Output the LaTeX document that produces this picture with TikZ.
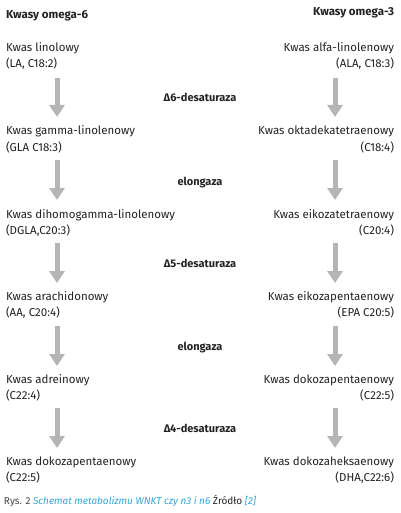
\documentclass[tikz,border=0pt]{standalone}
\usepackage{fontspec}
\setmainfont{Fira Sans}
\usetikzlibrary{arrows.meta}
\definecolor{txt}{HTML}{222222}
\definecolor{arr}{HTML}{B5B5B5}
\definecolor{capblue}{HTML}{35A6D6}
\definecolor{capgrey}{HTML}{444444}
\begin{document}
\begin{tikzpicture}[x=1pt,y=-1pt,
  every node/.style={inner sep=0pt,outer sep=0pt,text=txt,font=\fontsize{11.5}{16}\selectfont},
  lefttxt/.style={anchor=base west},
  righttxt/.style={anchor=base east},
  enzyme/.style={anchor=base,font=\fontsize{11}{14}\selectfont\bfseries},
  header/.style={font=\fontsize{11.5}{14}\selectfont\bfseries},
  flowarrow/.style={draw=arr,line width=5pt,-{Triangle[width=15pt,length=12pt]}}]
\useasboundingbox (0,0) rectangle (400,513);
% headers
\node[header,lefttxt] (h6) at (6,19) {Kwasy omega-6};
\node[header,righttxt] (h3) at (394,16) {Kwasy omega-3};
% left column
\node[lefttxt] (l1a) at (6,52) {Kwas linolowy};
\node[lefttxt] (l1b) at (6,68) {(LA, C18:2)};
\node[lefttxt] (l2a) at (6,135) {Kwas gamma-linolenowy};
\node[lefttxt] (l2b) at (6,151) {(GLA C18:3)};
\node[lefttxt] (l3a) at (6,218) {Kwas dihomogamma-linolenowy};
\node[lefttxt] (l3b) at (6,234) {(DGLA,C20:3)};
\node[lefttxt] (l4a) at (6,300) {Kwas arachidonowy};
\node[lefttxt] (l4b) at (6,316) {(AA, C20:4)};
\node[lefttxt] (l5a) at (6,383) {Kwas adreinowy};
\node[lefttxt] (l5b) at (6,399) {(C22:4)};
\node[lefttxt] (l6a) at (6,465) {Kwas dokozapentaenowy};
\node[lefttxt] (l6b) at (6,481) {(C22:5)};
% right column
\node[righttxt] (r1a) at (394,52) {Kwas alfa-linolenowy};
\node[righttxt] (r1b) at (394,68) {(ALA, C18:3)};
\node[righttxt] (r2a) at (394,135) {Kwas oktadekatetraenowy};
\node[righttxt] (r2b) at (394,151) {(C18:4)};
\node[righttxt] (r3a) at (394,218) {Kwas eikozatetraenowy};
\node[righttxt] (r3b) at (394,234) {(C20:4)};
\node[righttxt] (r4a) at (394,300) {Kwas eikozapentaenowy};
\node[righttxt] (r4b) at (394,316) {(EPA C20:5)};
\node[righttxt] (r5a) at (394,383) {Kwas dokozapentaenowy};
\node[righttxt] (r5b) at (394,399) {(C22:5)};
\node[righttxt] (r6a) at (394,465) {Kwas dokozaheksaenowy};
\node[righttxt] (r6b) at (394,481) {(DHA,C22:6)};
% enzymes
\node[enzyme] (e1) at (200,102) {Δ6-desaturaza};
\node[enzyme] (e2) at (200,185) {elongaza};
\node[enzyme] (e3) at (200,267) {Δ5-desaturaza};
\node[enzyme] (e4) at (200,350) {elongaza};
\node[enzyme] (e5) at (200,432) {Δ4-desaturaza};
% arrow end points
\foreach \i/\ys/\ye in {1/78/117,2/160/200,3/243/283,4/326/366,5/408/448}{
  \coordinate (la\i s) at (57,\ys);
  \coordinate (la\i e) at (57,\ye);
  \coordinate (ra\i s) at (335,\ys);
  \coordinate (ra\i e) at (335,\ye);
}
\foreach \i in {1,...,5}{
  \draw[flowarrow] (la\i s) -- (la\i e);
  \draw[flowarrow] (ra\i s) -- (ra\i e);
}
% caption
\node[anchor=base west,font=\fontsize{10}{12}\selectfont] (cap) at (4,504) {\textcolor{capgrey}{Rys. 2} \textcolor{capblue}{\itshape Schemat metabolizmu WNKT czy n3 i n6} Źródło \textcolor{capblue}{\itshape [2]}};
\end{tikzpicture}
\end{document}
